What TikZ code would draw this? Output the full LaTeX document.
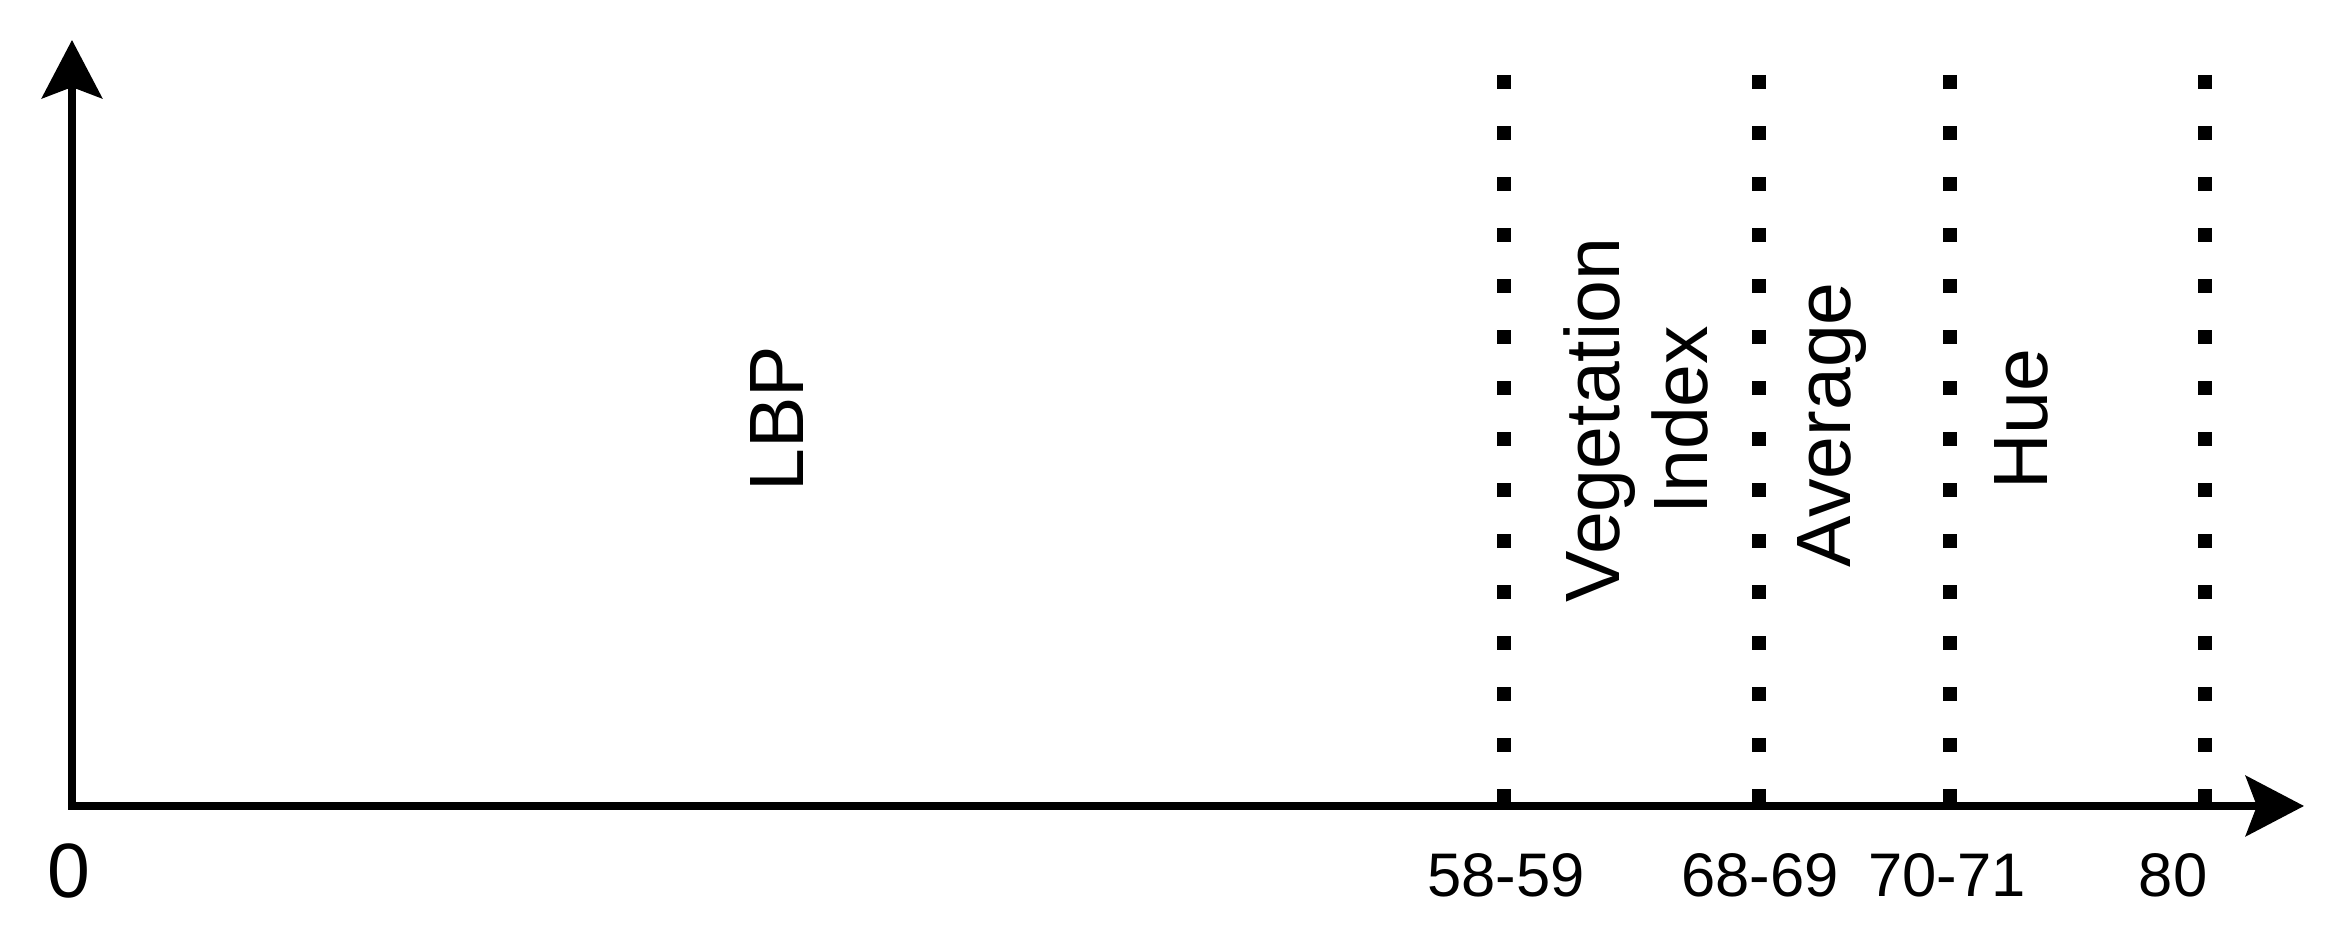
\documentclass[tikz,border=0pt]{standalone}
\usepackage{fontspec}
\setmainfont{Liberation Sans}
\usetikzlibrary{arrows.meta}

\begin{document}
\begin{tikzpicture}[x=0.01cm, y=0.01cm,
	axis/.style={line width=2pt,
		{Stealth[length=16.6pt,width=17.2pt,inset=3.2pt]}-{Stealth[length=16.6pt,width=17.2pt,inset=3.2pt]}},
	divider/.style={line width=4pt, dash pattern=on 3.98pt off 10.53pt},
	band/.style={rotate=90, inner sep=0pt, font=\fontsize{21.9}{25}\selectfont},
	tick/.style={anchor=base, inner sep=0pt, font=\fontsize{17.5}{20}\selectfont}]
	\useasboundingbox (0,0) rectangle (2326,-934);
	% axes
	\coordinate (ytip) at (72,-40);
	\coordinate (origin) at (72,-806);
	\coordinate (xtip) at (2304,-806);
	\draw [axis] (ytip) -- (origin) -- (xtip);
	% dotted dividers
	\foreach \name/\x in {a/1504,b/1759,c/1950,d/2205} {
		\coordinate (top\name) at (\x,-75);
		\draw [divider] (top\name) -- (top\name |- origin);
	}
	% bands
	\node [band, anchor=base] (lbp) at (803,-419) {LBP};
	\node [band, anchor=center, align=center] (veg) at (1636,-420) {Vegetation\\Index};
	\node [band, anchor=base] (avg) at (1850,-425) {Average};
	\node [band, anchor=base] (hue) at (2047,-419) {Hue};
	% ticks
	\node [tick, font=\fontsize{21.9}{25}\selectfont] (t0) at (69,-898) {0};
	\node [tick] (t58) at (1506,-897) {58-59};
	\node [tick] (t68) at (1760,-897) {68-69};
	\node [tick] (t70) at (1947,-897) {70-71};
	\node [tick] (t80) at (2173,-897) {80};
\end{tikzpicture}
\end{document}
